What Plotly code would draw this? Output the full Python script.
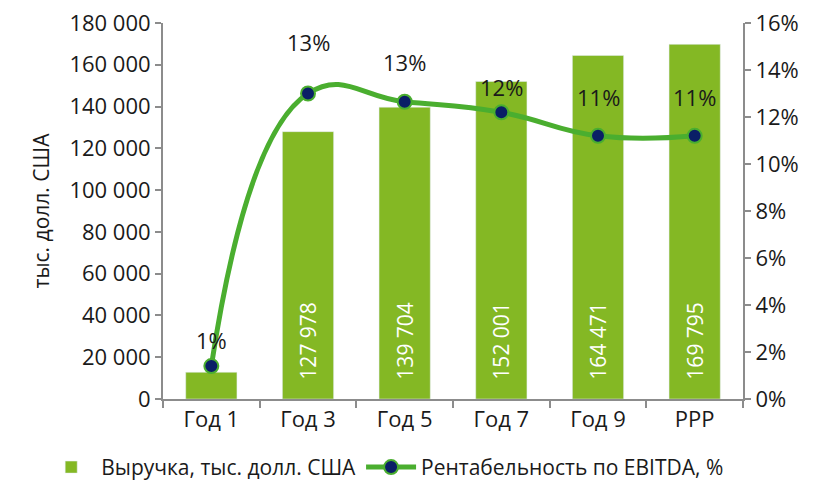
import plotly.graph_objects as go

categories = ['Год 1', 'Год 3', 'Год 5', 'Год 7', 'Год 9', 'PPP']
revenue = [12800, 127978, 139704, 152001, 164471, 169795]
ebitda_margin = [1.4, 13.0, 12.65, 12.2, 11.2, 11.2]
margin_labels = ['1%', '13%', '13%', '12%', '11%', '11%']
revenue_labels = ['', '127 978', '139 704', '152 001', '164 471', '169 795']

font = 'Open Sans'
bar_color = '#84b824'
line_color = '#4aae2f'
axis_color = '#8c8c8c'
pad = '\u00a0' * 3  # отступ подписи от основания столбца

fig = go.Figure()

fig.add_trace(go.Bar(
    x=categories,
    y=revenue,
    name='Выручка, тыс. долл. США',
    marker_color=bar_color,
    text=[pad + t if t else '' for t in revenue_labels],
    textposition='inside',
    insidetextanchor='start',
    textangle=-90,
    textfont=dict(color='white', size=21, family=font),
))

fig.add_trace(go.Scatter(
    x=categories,
    y=ebitda_margin,
    name='Рентабельность по EBITDA, %',
    yaxis='y2',
    mode='lines+markers',
    line=dict(color=line_color, width=5, shape='spline', smoothing=1.3),
    marker=dict(color='#0a1f66', size=14, line=dict(color=line_color, width=2)),
))

# подписи рентабельности над точками
shifts = [26, 52, 40, 25, 39, 39]
for c, v, t, s in zip(categories, ebitda_margin, margin_labels, shifts):
    fig.add_annotation(x=c, y=v, yref='y2', text=t, showarrow=False,
                       yshift=s, font=dict(size=22, color='#1a1a1a', family=font))

fig.update_layout(
    width=810, height=474,
    margin=dict(l=155, r=75, t=15, b=83, autoexpand=False),
    plot_bgcolor='white', paper_bgcolor='white',
    font=dict(family=font, size=22, color='#1a1a1a'),
    separators=', ',
    bargap=0.47,
    showlegend=True,
    legend=dict(orientation='h', x=-0.21, xanchor='left', y=-0.182, yanchor='middle',
                font=dict(size=21), itemwidth=50, tracegroupgap=0,
                bgcolor='rgba(0,0,0,0)'),
    xaxis=dict(showline=True, linecolor=axis_color, linewidth=2,
               ticks='outside', tickson='boundaries', tickcolor=axis_color,
               ticklen=7, tickwidth=2, range=[-0.5, 5.5]),
    yaxis=dict(range=[0, 180000], dtick=20000, tickformat=',d', ticklabeloverflow='allow',
               showline=True, linecolor=axis_color, linewidth=2,
               ticks='outside', tickcolor=axis_color, ticklen=6, tickwidth=2,
               showgrid=False, zeroline=False,
               title=dict(text='тыс. долл. США', standoff=14, font=dict(size=21))),
    yaxis2=dict(range=[0, 16], dtick=2, ticksuffix='%', overlaying='y', side='right',
                ticklabeloverflow='allow',
                showline=True, linecolor=axis_color, linewidth=2,
                ticks='outside', tickcolor=axis_color, ticklen=6, tickwidth=2,
                showgrid=False, zeroline=False),
)

fig.write_html('out.html')
